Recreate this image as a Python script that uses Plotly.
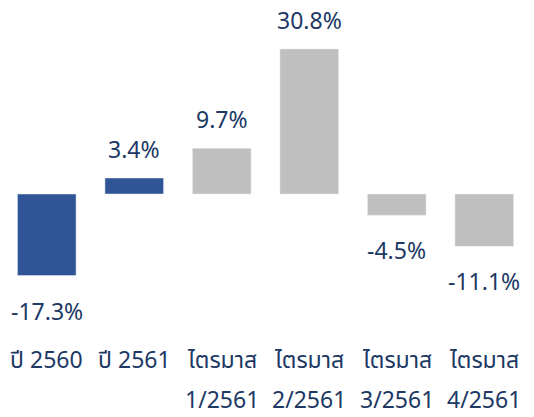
import plotly.graph_objects as go

categories = ["ปี 2560", "ปี 2561", "ไตรมาส 1/2561", "ไตรมาส 2/2561", "ไตรมาส 3/2561", "ไตรมาส 4/2561"]
line1 = ["ปี 2560", "ปี 2561", "ไตรมาส", "ไตรมาส", "ไตรมาส", "ไตรมาส"]
line2 = ["", "", "1/2561", "2/2561", "3/2561", "4/2561"]
values = [-17.3, 3.4, 9.7, 30.8, -4.5, -11.1]
labels = ["-17.3%", "3.4%", "9.7%", "30.8%", "-4.5%", "-11.1%"]
bar_colors = ["#2F5597", "#2F5597", "#BFBFBF", "#BFBFBF", "#BFBFBF", "#BFBFBF"]

TEXT = "#203864"
FONT = "Tahoma, 'Leelawadee UI', 'Noto Sans Thai', 'Noto Sans', 'DejaVu Sans', sans-serif"
FS = 23

fig = go.Figure(go.Bar(x=categories, y=values, marker_color=bar_colors, width=0.67,
                       hoverinfo="skip"))

ann = []
for c, v, t in zip(categories, values, labels):
    ann.append(dict(x=c, y=v, text=t, showarrow=False, yanchor="middle",
                    yshift=27 if v >= 0 else -37,
                    font=dict(size=FS, color=TEXT, family=FONT)))
for c, a, b in zip(categories, line1, line2):
    ann.append(dict(x=c, y=0, yref="paper", text=a, showarrow=False, yanchor="middle",
                    yshift=-31, font=dict(size=FS, color=TEXT, family=FONT)))
    if b:
        ann.append(dict(x=c, y=0, yref="paper", text=b, showarrow=False, yanchor="middle",
                        yshift=-71, font=dict(size=FS, color=TEXT, family=FONT)))

fig.update_layout(
    width=534, height=417,
    margin=dict(l=3, r=6, t=0, b=87),
    paper_bgcolor="white", plot_bgcolor="white",
    showlegend=False,
    annotations=ann,
    xaxis=dict(showticklabels=False, showgrid=False, zeroline=False, showline=False, ticks=""),
    yaxis=dict(range=[-28.87, 41.19], showticklabels=False, showgrid=False, zeroline=False,
               showline=False, ticks=""),
    font=dict(family=FONT, color=TEXT),
)

fig.write_html("out.html", config={"displayModeBar": False},
               post_script="document.body.style.margin='0';document.body.style.overflow='hidden';")
